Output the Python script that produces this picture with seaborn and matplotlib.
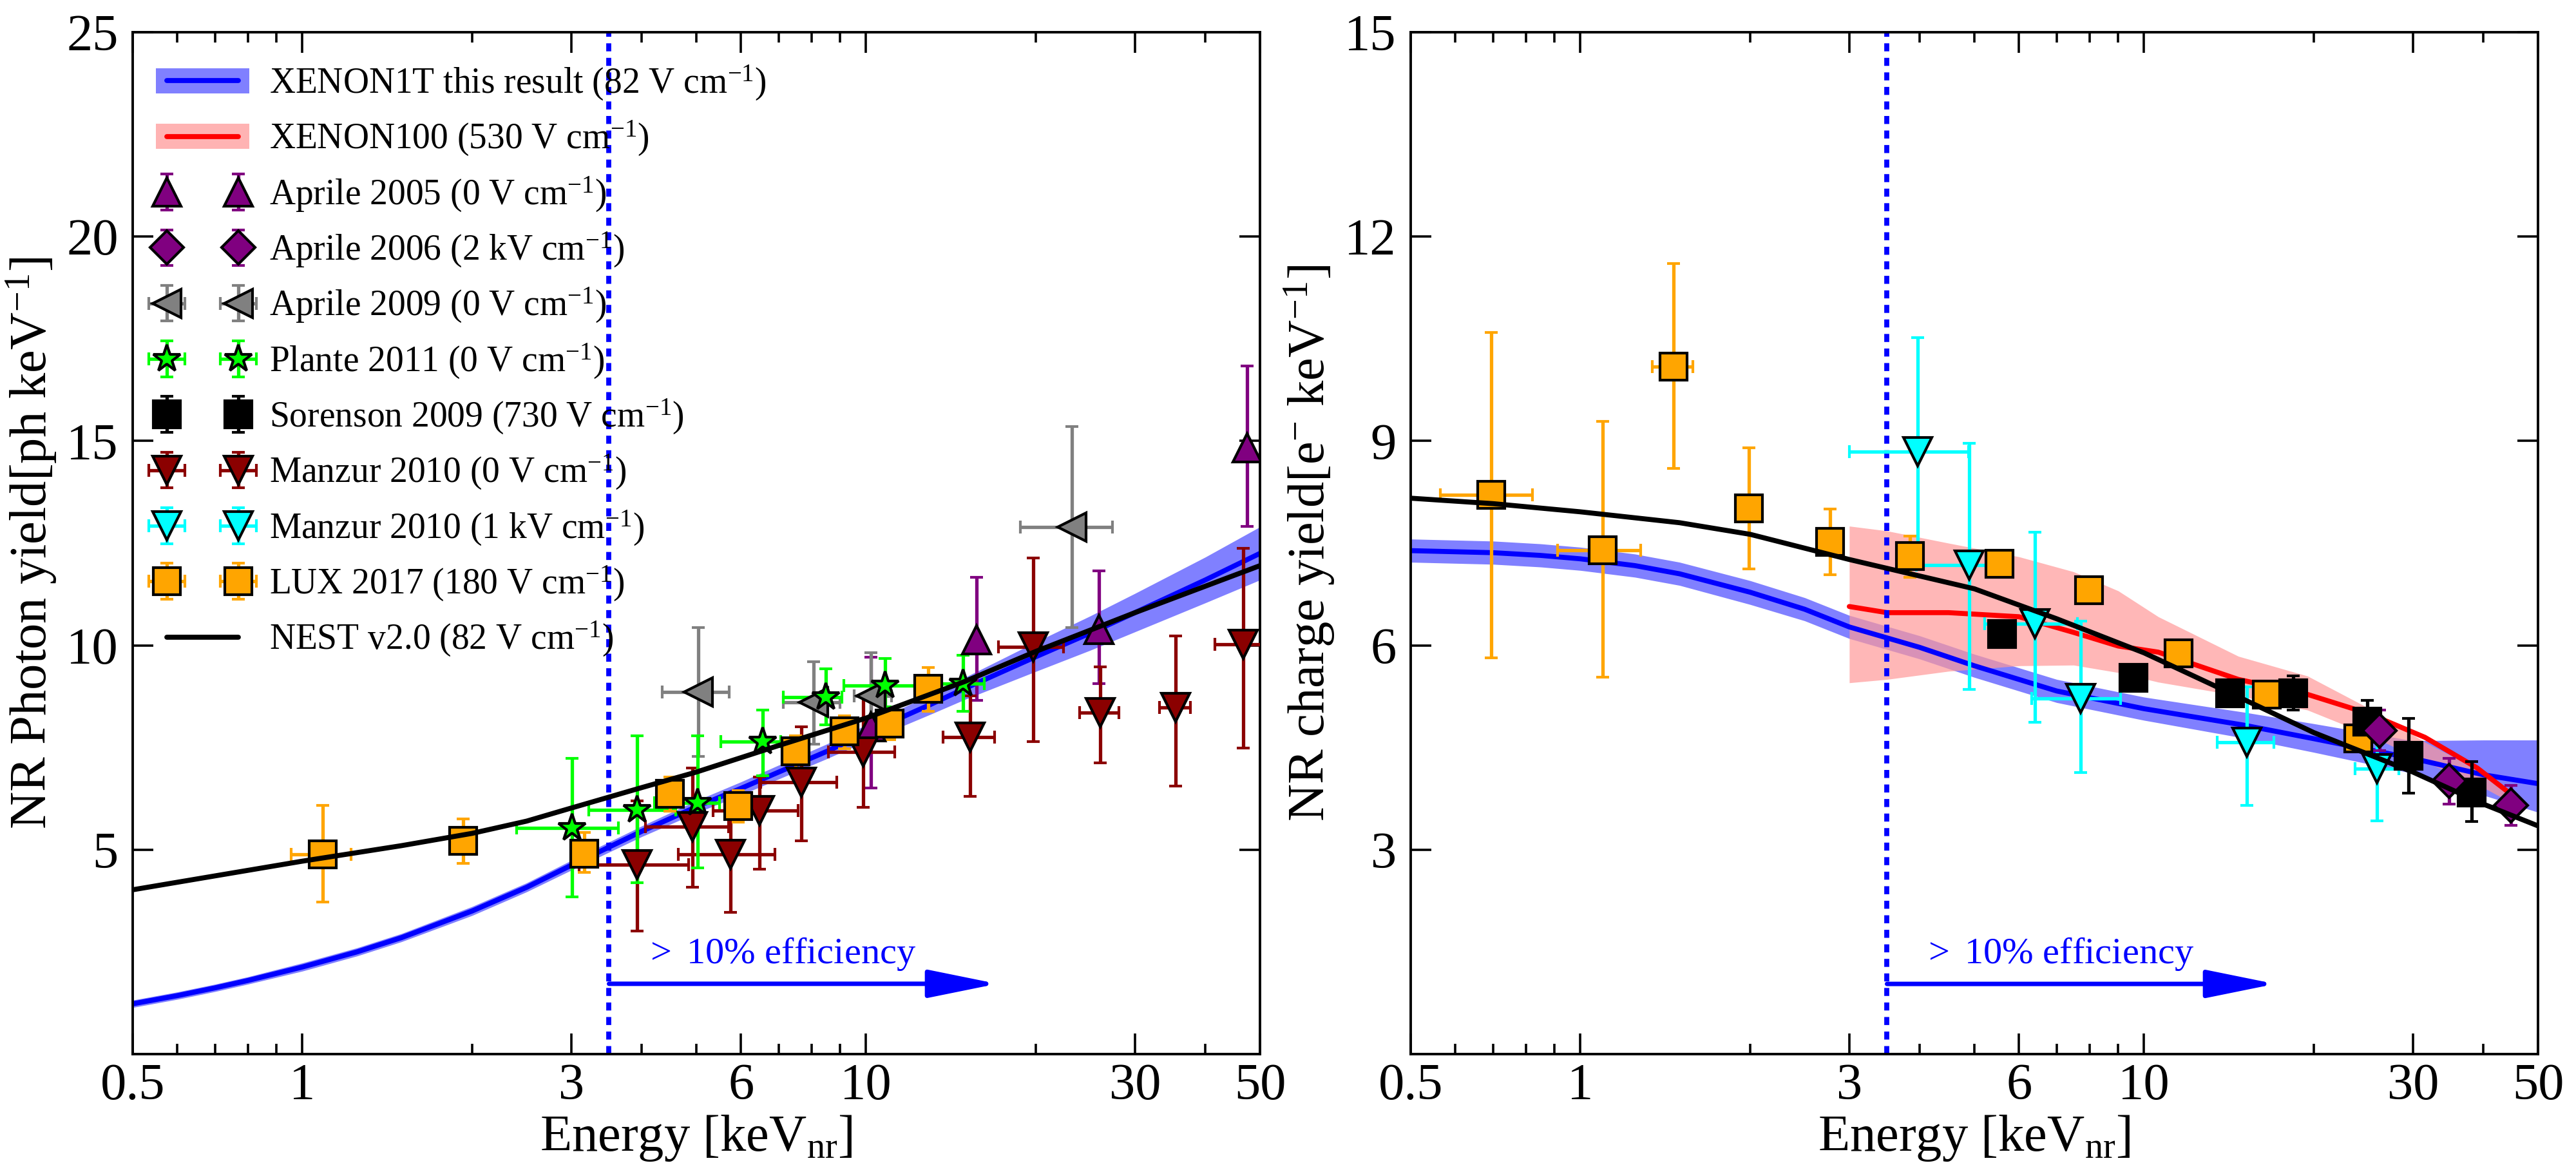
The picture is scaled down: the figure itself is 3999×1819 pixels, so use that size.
import numpy as np
import seaborn as sns
import matplotlib
matplotlib.use('Agg')
from matplotlib import pyplot as plt
from matplotlib.patches import Patch
from matplotlib.lines import Line2D
from matplotlib.ticker import FixedLocator, FixedFormatter, NullFormatter

# ---------------- curves: photon yield (left) ----------------
ly_E = [0.5, 0.6, 0.7, 0.8, 1, 1.25, 1.5, 2, 2.5, 3, 4, 5, 6, 7, 8.5, 10, 13, 15, 20, 25, 30, 40, 50]
ly_x1t = [1.23, 1.43, 1.62, 1.8, 2.13, 2.5, 2.85, 3.5, 4.08, 4.62, 5.45, 6.05, 6.5, 6.9, 7.4,
          7.85, 8.55, 8.95, 9.72, 10.3, 10.8, 11.6, 12.25]
ly_x1t_err = [0.09, 0.09, 0.09, 0.09, 0.1, 0.1, 0.1, 0.11, 0.11, 0.12, 0.13, 0.15, 0.16, 0.17,
              0.18, 0.2, 0.24, 0.27, 0.36, 0.42, 0.47, 0.56, 0.65]
ln_E = [0.5, 0.7, 1, 1.5, 2, 2.5, 3, 4, 5, 7, 10, 15, 20, 30, 50]
ly_nest = [4.02, 4.36, 4.72, 5.1, 5.4, 5.7, 6.02, 6.52, 6.9, 7.55, 8.22, 9.12, 9.85, 10.8, 11.95]

# ---------------- curves: charge yield (right) ----------------
qy_E = [0.5, 0.7, 0.85, 1, 1.25, 1.5, 2, 2.5, 3, 4, 5, 7, 10, 15, 20, 30, 40, 50]
qy_x1t = [7.39, 7.36, 7.32, 7.27, 7.17, 7.05, 6.78, 6.53, 6.27, 5.97, 5.7, 5.33, 5.07, 4.83,
          4.63, 4.34, 4.1, 3.97]
qy_x1t_lo = [7.22, 7.19, 7.15, 7.1, 7.0, 6.88, 6.6, 6.36, 6.1, 5.8, 5.53, 5.16, 4.9, 4.64,
             4.43, 4.12, 3.8, 3.55]
qy_x1t_hi = [7.56, 7.53, 7.49, 7.44, 7.34, 7.22, 6.95, 6.7, 6.44, 6.14, 5.87, 5.5, 5.24, 5.02,
             4.85, 4.6, 4.61, 4.61]
qn_E = [0.5, 0.7, 1, 1.5, 2, 3, 5, 7, 10, 15, 20, 30, 40, 50]
qy_nest = [8.16, 8.08, 7.96, 7.8, 7.63, 7.26, 6.83, 6.39, 5.89, 5.21, 4.72, 4.14, 3.67, 3.35]

x100_E = [3.0, 3.5, 4.5, 6, 7.5, 9, 10.6, 14.7, 19.5, 25, 31.5, 39, 47]
x100_q = [6.57, 6.48, 6.48, 6.42, 6.19, 5.99, 5.9, 5.5, 5.28, 5.0, 4.65, 4.2, 3.68]
x100_lo = [5.45, 5.5, 5.62, 5.7, 5.71, 5.6, 5.46, 5.26, 5.05, 4.69, 4.29, 3.96, 3.6]
x100_hi = [7.75, 7.68, 7.5, 7.3, 7.08, 6.8, 6.42, 5.84, 5.55, 5.08, 4.58, 4.18, 3.74]

# ---------------- data points: photon yield ----------------
a05_E = [10.2, 15.7, 25.9, 47.4]
a05_L = [8.0, 10.14, 10.38, 14.84]
a05_L_lo = [6.51, 8.66, 9.06, 12.91]
a05_L_hi = [9.71, 11.67, 11.83, 16.83]

a09_E = [5.04, 8.07, 10.2, 23.2]
a09_L = [8.86, 8.61, 8.77, 12.89]
a09_L_lo = [7.28, 7.58, 8.0, 10.44]
a09_L_hi = [10.43, 9.6, 9.82, 15.35]
a09_E_lo = [4.35, 7.13, 9.53, 18.8]
a09_E_hi = [5.72, 8.98, 11.1, 27.4]

pl_E = [3.01, 3.93, 5.02, 6.55, 8.49, 10.8, 14.85]
pl_L = [5.54, 5.98, 6.15, 7.64, 8.74, 9.02, 9.07]
pl_L_lo = [3.85, 4.19, 4.55, 6.81, 8.05, 8.5, 8.39]
pl_L_hi = [7.24, 7.79, 7.79, 8.41, 9.42, 9.68, 9.75]
pl_E_lo = [2.40, 3.22, 4.21, 5.53, 7.13, 9.14, 12.5]
pl_E_hi = [3.64, 4.6, 5.5, 7.06, 9.06, 12.2, 16.2]

m0_E = [3.93, 4.92, 5.75, 6.47, 7.67, 9.89, 15.3, 19.8, 26.0, 35.4, 46.7]
m0_L = [4.63, 5.57, 4.88, 5.96, 6.65, 7.39, 7.76, 9.96, 8.36, 8.48, 10.02]
m0_L_lo = [3.01, 4.08, 3.47, 4.52, 5.21, 6.04, 6.31, 7.64, 7.12, 6.56, 7.49]
m0_L_hi = [6.19, 7.0, 5.9, 6.78, 8.01, 8.77, 8.76, 12.13, 9.48, 10.23, 12.37]
m0_E_lo = [3.1, 4.06, 4.64, 5.35, 6.5, 8.57, 13.7, 17.2, 23.9, 33.2, 41.6]
m0_E_hi = [4.85, 5.71, 6.9, 7.57, 8.88, 11.25, 16.9, 22.4, 28.1, 37.6, 52.0]

luxL_E = [1.086, 1.93, 3.16, 4.49, 5.93, 7.5, 9.15, 11.0, 12.9]
luxL_L = [4.89, 5.22, 4.91, 6.37, 6.07, 7.41, 7.89, 8.08, 8.93]
luxL_L_lo = [3.72, 4.66, 4.44, 5.95, 5.68, 7.0, 7.47, 7.7, 8.39]
luxL_L_hi = [6.08, 5.76, 5.43, 6.78, 6.45, 7.78, 8.28, 8.44, 9.45]
luxL_E_lo = [0.954, 1.93, 3.16, 4.49, 5.93, 7.5, 9.15, 11.0, 12.9]
luxL_E_hi = [1.22, 1.93, 3.16, 4.49, 5.93, 7.5, 9.15, 11.0, 12.9]

# ---------------- data points: charge yield ----------------
luxQ_E = [0.694, 1.096, 1.462, 1.988, 2.77, 3.84, 5.54, 7.99, 11.5, 16.5, 24.0]
luxQ_Q = [8.21, 7.40, 10.09, 8.01, 7.52, 7.31, 7.20, 6.81, 5.88, 5.28, 4.63]
luxQ_Q_lo = [5.82, 5.53, 8.6, 7.12, 7.04, 7.0, 7.15, 6.76, 5.83, 5.23, 4.58]
luxQ_Q_hi = [10.59, 9.29, 11.6, 8.9, 8.0, 7.6, 7.25, 6.86, 5.93, 5.33, 4.68]
luxQ_E_lo = [0.565, 0.911, 1.34, 1.988, 2.77, 3.84, 5.54, 7.99, 11.5, 16.5, 24.0]
luxQ_E_hi = [0.823, 1.279, 1.585, 1.988, 2.77, 3.84, 5.54, 7.99, 11.5, 16.5, 24.0]

sor_E = [5.6, 9.58, 14.2, 18.4, 24.9, 29.5, 38.1]
sor_Q = [6.17, 5.52, 5.30, 5.30, 4.88, 4.38, 3.84]
sor_Q_lo = [6.07, 5.42, 5.2, 5.05, 4.58, 3.83, 3.41]
sor_Q_hi = [6.27, 5.62, 5.4, 5.55, 5.19, 4.93, 4.29]

a06_E = [26.2, 34.8, 44.8]
a06_Q = [4.75, 4.01, 3.65]
a06_Q_lo = [4.45, 3.67, 3.36]
a06_Q_hi = [5.05, 4.34, 3.94]

m1_E = [3.97, 4.90, 6.41, 7.71, 15.2, 25.9]
m1_Q = [8.84, 7.18, 6.32, 5.22, 4.58, 4.19]
m1_Q_lo = [7.2, 5.35, 4.87, 4.13, 3.65, 3.42]
m1_Q_hi = [10.52, 8.97, 7.66, 6.36, 5.39, 4.87]
m1_E_lo = [3.0, 3.95, 5.22, 6.32, 13.5, 23.7]
m1_E_hi = [4.88, 5.25, 7.61, 9.08, 17.0, 28.3]

eff_threshold = 3.5
arrow_end = 17.1

x_major = [0.5, 1, 3, 6, 10, 30, 50]
x_major_labels = ['0.5', '1', '3', '6', '10', '30', '50']
x_minor = [0.6, 0.7, 0.8, 0.9, 2, 4, 5, 7, 8, 9, 20, 40]

sns.set_theme(style='ticks', rc={
    'axes.edgecolor': 'black', 'xtick.color': 'black', 'ytick.color': 'black',
    'text.color': 'black', 'axes.labelcolor': 'black', 'axes.linewidth': 1.4,
})
plt.rcParams['font.family'] = ['Liberation Serif', 'DejaVu Serif']
plt.rcParams['mathtext.fontset'] = 'custom'
plt.rcParams['mathtext.rm'] = 'Liberation Serif'
plt.rcParams['mathtext.it'] = 'Liberation Serif:italic'
plt.rcParams['mathtext.bf'] = 'Liberation Serif:bold'

fig, (ax1, ax2) = plt.subplots(1, 2, figsize=(3999 / 200, 1819 / 200), dpi=200)
fig.subplots_adjust(left=206 / 3999, right=3940 / 3999, bottom=183 / 1819,
                    top=1769 / 1819, wspace=0.1337)

ebar_kw = dict(linestyle='none', mew=1.5, elinewidth=1.9,
               capsize=3.5, capthick=1.9, zorder=3)


def draw_points(ax, E, y, ylo, yhi, marker, color, ms, label, xlo=None, xhi=None):
    E = np.array(E)
    y = np.array(y)
    yerr = [y - np.array(ylo), np.array(yhi) - y]
    xerr = None
    if xlo is not None:
        xerr = [E - np.array(xlo), np.array(xhi) - E]
    return ax.errorbar(E, y, yerr=yerr, xerr=xerr, marker=marker, ms=ms, mec='black',
                       mfc=color, ecolor=color, label=label, **ebar_kw)


# left panel
band_lo = np.array(ly_x1t) - np.array(ly_x1t_err)
band_hi = np.array(ly_x1t) + np.array(ly_x1t_err)
ax1.fill_between(ly_E, band_lo, band_hi, color='#8080ff', lw=0, zorder=1)
sns.lineplot(x=ly_E, y=ly_x1t, ax=ax1, color='blue', lw=2.8, zorder=2, legend=False)
ax1.axvline(eff_threshold, color='blue', lw=2.8, dashes=(1.6, 1.3), zorder=2.5)

h_a05 = draw_points(ax1, a05_E, a05_L, a05_L_lo, a05_L_hi, '^', 'purple', 16,
                    r'Aprile 2005 (0 V cm$^{-1}$)')
h_a09 = draw_points(ax1, a09_E, a09_L, a09_L_lo, a09_L_hi, '<', 'grey', 16,
                    r'Aprile 2009 (0 V cm$^{-1}$)', a09_E_lo, a09_E_hi)
h_m0 = draw_points(ax1, m0_E, m0_L, m0_L_lo, m0_L_hi, 'v', 'darkred', 16,
                   r'Manzur 2010 (0 V cm$^{-1}$)', m0_E_lo, m0_E_hi)
h_pl = draw_points(ax1, pl_E, pl_L, pl_L_lo, pl_L_hi, '*', 'lime', 16,
                   r'Plante 2011 (0 V cm$^{-1}$)', pl_E_lo, pl_E_hi)
h_lux = draw_points(ax1, luxL_E, luxL_L, luxL_L_lo, luxL_L_hi, 's', 'orange', 15,
                    r'LUX 2017 (180 V cm$^{-1}$)', luxL_E_lo, luxL_E_hi)
sns.lineplot(x=ln_E, y=ly_nest, ax=ax1, color='black', lw=2.8, zorder=4, legend=False)

# right panel
ax2.fill_between(qy_E, qy_x1t_lo, qy_x1t_hi, color='#8080ff', lw=0, zorder=1)
ax2.fill_between(x100_E, x100_lo, x100_hi, color='#ff9999', alpha=0.7, lw=0, zorder=1.5)
sns.lineplot(x=qy_E, y=qy_x1t, ax=ax2, color='blue', lw=2.8, zorder=2, legend=False)
sns.lineplot(x=x100_E, y=x100_q, ax=ax2, color='red', lw=2.8, zorder=2.1, legend=False)
ax2.axvline(eff_threshold, color='blue', lw=2.8, dashes=(1.6, 1.3), zorder=2.5)

draw_points(ax2, luxQ_E, luxQ_Q, luxQ_Q_lo, luxQ_Q_hi, 's', 'orange', 15, None,
            luxQ_E_lo, luxQ_E_hi)
h_m1 = draw_points(ax2, m1_E, m1_Q, m1_Q_lo, m1_Q_hi, 'v', 'cyan', 16,
                   r'Manzur 2010 (1 kV cm$^{-1}$)', m1_E_lo, m1_E_hi)
h_sor = draw_points(ax2, sor_E, sor_Q, sor_Q_lo, sor_Q_hi, 's', 'black', 15,
                    r'Sorenson 2009 (730 V cm$^{-1}$)')
h_a06 = draw_points(ax2, a06_E, a06_Q, a06_Q_lo, a06_Q_hi, 'D', 'purple', 13,
                    r'Aprile 2006 (2 kV cm$^{-1}$)')
sns.lineplot(x=qn_E, y=qy_nest, ax=ax2, color='black', lw=2.8, zorder=4, legend=False)

# efficiency annotation
for ax, y_arrow, y_text in [(ax1, 1.72, 2.22), (ax2, 1.03, 1.33)]:
    ax.annotate('', xy=(arrow_end, y_arrow), xytext=(eff_threshold, y_arrow),
                arrowprops=dict(arrowstyle='-|>,head_length=33,head_width=6.7',
                                mutation_scale=1, color='blue', lw=2.5,
                                shrinkA=0, shrinkB=0), zorder=5)
    ax.text(4.05, y_text, r'$>$ 10% efficiency', color='blue', fontsize=21)

# axes
for ax in (ax1, ax2):
    ax.set_xscale('log')
    ax.set_xlim(0.5, 50)
    ax.xaxis.set_major_locator(FixedLocator(x_major))
    ax.xaxis.set_major_formatter(FixedFormatter(x_major_labels))
    ax.xaxis.set_minor_locator(FixedLocator(x_minor))
    ax.xaxis.set_minor_formatter(NullFormatter())
    ax.tick_params(which='both', direction='in', top=True, right=True,
                   labelsize=29, width=1.3)
    ax.tick_params(which='major', length=11.5)
    ax.tick_params(which='minor', length=5.8)
    ax.tick_params(axis='y', pad=8)
    ax.tick_params(axis='x', pad=5)
    ax.set_xlabel(r'Energy [keV$_{\rm nr}$]', fontsize=29, labelpad=2)

ax1.set_ylim(0, 25)
ax1.set_yticks([5, 10, 15, 20, 25])
ax1.set_ylabel(r'NR Photon yield[ph keV$^{-1}$]', fontsize=29, labelpad=4)
ax2.set_ylim(0, 15)
ax2.set_yticks([3, 6, 9, 12, 15])
ax2.set_ylabel(r'NR charge yield[e$^{-}$ keV$^{-1}$]', fontsize=29, labelpad=4)

# legend (collects entries from both panels)
h_x1t = (Patch(facecolor='#8080ff', edgecolor='none'), Line2D([], [], color='blue', lw=2.8))
h_x100 = (Patch(facecolor='#ffb3b3', edgecolor='none'), Line2D([], [], color='red', lw=2.8))
h_nest = Line2D([], [], color='black', lw=2.8)
handles = [h_x1t, h_x100, h_a05, h_a06, h_a09, h_pl, h_sor, h_m0, h_m1, h_lux, h_nest]
labels = [r'XENON1T this result (82 V cm$^{-1}$)', r'XENON100 (530 V cm$^{-1}$)',
          r'Aprile 2005 (0 V cm$^{-1}$)', r'Aprile 2006 (2 kV cm$^{-1}$)',
          r'Aprile 2009 (0 V cm$^{-1}$)', r'Plante 2011 (0 V cm$^{-1}$)',
          r'Sorenson 2009 (730 V cm$^{-1}$)', r'Manzur 2010 (0 V cm$^{-1}$)',
          r'Manzur 2010 (1 kV cm$^{-1}$)', r'LUX 2017 (180 V cm$^{-1}$)',
          r'NEST v2.0 (82 V cm$^{-1}$)']
if ax2.get_legend() is not None:
    ax2.get_legend().remove()
ax1.legend(handles, labels, loc='upper left', bbox_to_anchor=(0.0, 0.992), frameon=False,
           numpoints=2, fontsize=20, handlelength=2.6, handletextpad=0.56,
           borderaxespad=0.25, labelspacing=0.47)

fig.savefig('out.png', dpi=200)
